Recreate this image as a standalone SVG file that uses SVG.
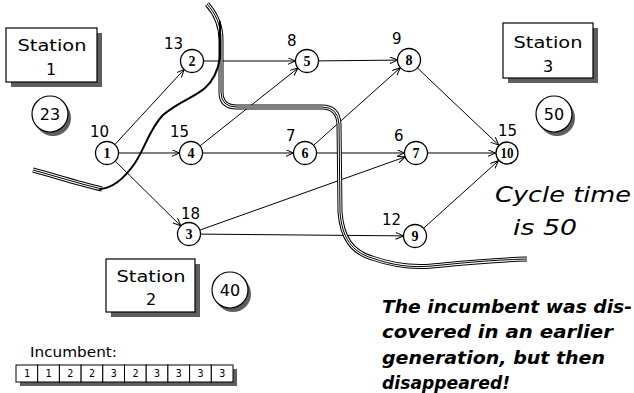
<svg xmlns="http://www.w3.org/2000/svg" width="634" height="393" viewBox="0 0 634 393">
  <defs>
    <marker id="arrow" markerUnits="userSpaceOnUse" markerWidth="10" markerHeight="10" refX="8" refY="3.5" orient="auto">
      <path d="M0,0 L8,3.5 L0,7" fill="none" stroke="#000" stroke-width="1"/>
    </marker>
    <!-- river centre lines, stroked three times for the triple-line look -->
    <path id="rb" d="M207,4 C215,13 221,24 221,40 L221,92 Q221,107 237,107 L322,107 Q338,107 339,124 L340,212 C342,238 352,252 372,258 C392,265 410,268 432,266 C462,263 490,260 527,259"/>
    <path id="ra" d="M33,170 C55,176 80,184 102,189"/>
    <style>
      .node circle { fill: #fff; stroke: #000; stroke-width: 1.3; }
      .nid { font-family: "Liberation Serif", serif; font-weight: bold; font-size: 14px; text-anchor: middle; fill: #000; }
      .lbl { font-family: "DejaVu Sans", sans-serif; font-size: 15px; fill: #000; }
      .edge { fill: none; stroke: #000; stroke-width: 1; marker-end: url(#arrow); }
      .box { fill: #fff; stroke: #000; stroke-width: 1.2; }
      .shadow { fill: #5e5e5e; }
      .stn { font-family: "DejaVu Sans", sans-serif; font-size: 16px; text-anchor: middle; fill: #000; }
      .river-o { fill: none; stroke: #000; stroke-width: 5; stroke-linejoin: round; }
      .river-m { fill: none; stroke: #fff; stroke-width: 3; stroke-linejoin: round; }
      .river-i { fill: none; stroke: #000; stroke-width: 1; stroke-linejoin: round; }
      .note { font-family: "DejaVu Sans", sans-serif; font-style: oblique; fill: #000; }
      .cell { fill: #fff; stroke: #000; stroke-width: 1; }
      .cd { font-family: "DejaVu Sans Mono", monospace; font-size: 10px; text-anchor: middle; fill: #000; }
    </style>
  </defs>

  <rect width="634" height="393" fill="#fff"/>

  <!-- precedence arcs -->
  <g id="connectors">
    <line class="edge" x1="114.8" y1="144.6" x2="184.2" y2="69.4"/>
    <line class="edge" x1="118.5" y1="153" x2="179.5" y2="153"/>
    <line class="edge" x1="115.2" y1="161.1" x2="180.8" y2="225.9"/>
    <line class="edge" x1="203.5" y1="61" x2="295.5" y2="61"/>
    <line class="edge" x1="200" y1="145.9" x2="298" y2="68.1"/>
    <line class="edge" x1="202.5" y1="153" x2="293.5" y2="153"/>
    <line class="edge" x1="318.5" y1="60.9" x2="397.5" y2="60.1"/>
    <line class="edge" x1="313.6" y1="145.3" x2="400.4" y2="67.7"/>
    <line class="edge" x1="316.5" y1="153" x2="404.5" y2="153"/>
    <line class="edge" x1="199.8" y1="230.1" x2="405.2" y2="156.9"/>
    <line class="edge" x1="200.5" y1="234.1" x2="403.5" y2="235.9"/>
    <line class="edge" x1="417.3" y1="67.9" x2="498.7" y2="145.1"/>
    <line class="edge" x1="427.5" y1="153" x2="495.5" y2="153"/>
    <line class="edge" x1="423.5" y1="228.3" x2="498.5" y2="160.7"/>
  </g>

  <!-- station boundaries drawn as rivers -->
  <g id="river-b">
    <use href="#rb" class="river-o"/>
    <use href="#rb" class="river-m"/>
    <use href="#rb" class="river-i"/>
  </g>
  <g id="river-a">
    <use href="#ra" class="river-o"/>
    <use href="#ra" class="river-m"/>
    <use href="#ra" class="river-i"/>
    <path d="M100,189 C115,188 126,176 135,163 C145,148 150,128 163,115 C178,102 195,97 205,88 C214,80 218,70 220,58 L220,22" fill="none" stroke="#000" stroke-width="2" stroke-linecap="round"/>
  </g>

  <!-- task nodes -->
  <g id="node1" class="node"><circle cx="107" cy="153" r="11.5"/><text class="nid" x="107" y="158">1</text><text class="lbl" x="90" y="137">10</text></g>
  <g id="node2" class="node"><circle cx="192" cy="61" r="11.5"/><text class="nid" x="192" y="66">2</text><text class="lbl" x="164" y="49">13</text></g>
  <g id="node3" class="node"><circle cx="189" cy="234" r="11.5"/><text class="nid" x="189" y="239">3</text><text class="lbl" x="181" y="219">18</text></g>
  <g id="node4" class="node"><circle cx="191" cy="153" r="11.5"/><text class="nid" x="191" y="158">4</text><text class="lbl" x="170" y="137">15</text></g>
  <g id="node5" class="node"><circle cx="307" cy="61" r="11.5"/><text class="nid" x="307" y="66">5</text><text class="lbl" x="287" y="46">8</text></g>
  <g id="node6" class="node"><circle cx="305" cy="153" r="11.5"/><text class="nid" x="305" y="158">6</text><text class="lbl" x="286" y="141">7</text></g>
  <g id="node7" class="node"><circle cx="416" cy="153" r="11.5"/><text class="nid" x="416" y="158">7</text><text class="lbl" x="394" y="141">6</text></g>
  <g id="node8" class="node"><circle cx="409" cy="60" r="11.5"/><text class="nid" x="409" y="65">8</text><text class="lbl" x="392" y="44">9</text></g>
  <g id="node9" class="node"><circle cx="415" cy="236" r="11.5"/><text class="nid" x="415" y="241">9</text><text class="lbl" x="382" y="225">12</text></g>
  <g id="node10" class="node"><circle cx="507" cy="153" r="11"/><text class="nid" x="507" y="158" font-size="12" textLength="13" lengthAdjust="spacingAndGlyphs">10</text><text class="lbl" x="498" y="136">15</text></g>

  <!-- stations with their loads -->
  <g id="station1">
    <rect class="shadow" x="11" y="33" width="91" height="54"/>
    <rect class="box" x="6" y="28" width="91" height="54"/>
    <text class="stn" x="52" y="51" textLength="69" lengthAdjust="spacingAndGlyphs">Station</text>
    <text class="stn" x="51" y="75">1</text>
  </g>
  <g id="load1">
    <circle class="shadow" cx="53" cy="118" r="18"/>
    <circle cx="50" cy="114" r="18" fill="#fff" stroke="#000" stroke-width="1.2"/>
    <text class="stn" x="50" y="120" font-size="17">23</text>
  </g>

  <g id="station2">
    <rect class="shadow" x="111" y="264" width="89" height="53"/>
    <rect class="box" x="106" y="259" width="89" height="53"/>
    <text class="stn" x="151" y="282" textLength="69" lengthAdjust="spacingAndGlyphs">Station</text>
    <text class="stn" x="151" y="305">2</text>
  </g>
  <g id="load2">
    <circle class="shadow" cx="233" cy="294" r="18"/>
    <circle cx="230" cy="290" r="18" fill="#fff" stroke="#000" stroke-width="1.2"/>
    <text class="stn" x="230" y="296" font-size="17">40</text>
  </g>

  <g id="station3">
    <rect class="shadow" x="508" y="28" width="90" height="55"/>
    <rect class="box" x="503" y="23" width="90" height="55"/>
    <text class="stn" x="548" y="48" textLength="69" lengthAdjust="spacingAndGlyphs">Station</text>
    <text class="stn" x="548" y="72">3</text>
  </g>
  <g id="load3">
    <circle class="shadow" cx="557" cy="118" r="18"/>
    <circle cx="554" cy="114" r="18" fill="#fff" stroke="#000" stroke-width="1.2"/>
    <text class="stn" x="554" y="120" font-size="17">50</text>
  </g>

  <!-- notes -->
  <text class="note" x="495" y="202" font-size="21" textLength="136" lengthAdjust="spacingAndGlyphs">Cycle time</text>
  <text class="note" x="513" y="235" font-size="21" textLength="64" lengthAdjust="spacingAndGlyphs">is 50</text>

  <g class="note" font-size="17" font-weight="bold">
    <text x="382" y="313" textLength="250" lengthAdjust="spacingAndGlyphs">The incumbent was dis-</text>
    <text x="382" y="338" textLength="231" lengthAdjust="spacingAndGlyphs">covered in an earlier</text>
    <text x="382" y="364" textLength="223" lengthAdjust="spacingAndGlyphs">generation, but then</text>
    <text x="382" y="389" textLength="128" lengthAdjust="spacingAndGlyphs">disappeared!</text>
  </g>

  <!-- incumbent assignment string -->
  <g id="incumbent">
    <text x="30" y="357" font-family="DejaVu Sans, sans-serif" font-size="14" textLength="87" lengthAdjust="spacingAndGlyphs">Incumbent:</text>
    <rect class="shadow" x="20" y="369" width="217" height="17"/>
    <rect class="cell" x="16" y="365" width="21.7" height="17"/>
    <rect class="cell" x="37.7" y="365" width="21.7" height="17"/>
    <rect class="cell" x="59.4" y="365" width="21.7" height="17"/>
    <rect class="cell" x="81.1" y="365" width="21.7" height="17"/>
    <rect class="cell" x="102.8" y="365" width="21.7" height="17"/>
    <rect class="cell" x="124.5" y="365" width="21.7" height="17"/>
    <rect class="cell" x="146.2" y="365" width="21.7" height="17"/>
    <rect class="cell" x="167.9" y="365" width="21.7" height="17"/>
    <rect class="cell" x="189.6" y="365" width="21.7" height="17"/>
    <rect class="cell" x="211.3" y="365" width="21.7" height="17"/>
    <text class="cd" x="26.9" y="377">1</text>
    <text class="cd" x="48.6" y="377">1</text>
    <text class="cd" x="70.3" y="377">2</text>
    <text class="cd" x="92" y="377">2</text>
    <text class="cd" x="113.7" y="377">3</text>
    <text class="cd" x="135.4" y="377">2</text>
    <text class="cd" x="157.1" y="377">3</text>
    <text class="cd" x="178.8" y="377">3</text>
    <text class="cd" x="200.5" y="377">3</text>
    <text class="cd" x="222.2" y="377">3</text>
  </g>
</svg>
